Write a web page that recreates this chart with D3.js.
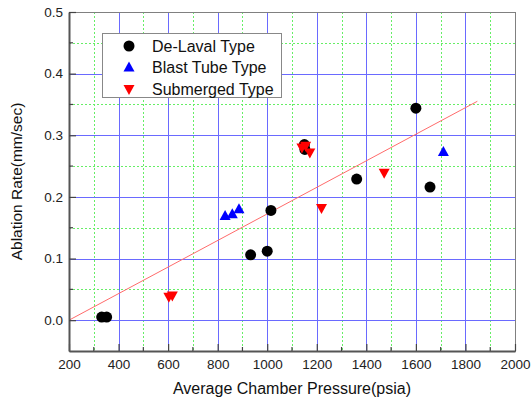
<!DOCTYPE html>
<html>
<head>
<meta charset="utf-8">
<script src="https://cdn.jsdelivr.net/npm/d3@7"></script>
<style>
  body { margin: 0; background: #fff; }
  svg { display: block; font-family: "Liberation Sans", Arial, sans-serif; }
</style>
</head>
<body>
<div id="chart"></div>
<script>
// De-Laval type nozzles
const delavalX = [332, 352, 933, 1000, 1015, 1150, 1152, 1361, 1600, 1657];
const delavalY = [0.005, 0.005, 0.106, 0.112, 0.178, 0.285, 0.277, 0.229, 0.344, 0.216];
// Blast tube type
const blastX = [830, 859, 886, 1711];
const blastY = [0.169, 0.172, 0.180, 0.273];
// Submerged type
const submergedX = [603, 617, 1140, 1155, 1172, 1219, 1472];
const submergedY = [0.038, 0.040, 0.280, 0.283, 0.272, 0.182, 0.239];

// linear fit drawn over the data
const fitSlope = 0.0002155;
const fitIntercept = -0.0431;
const fitRange = [200, 1848];

const xTicks = [200, 400, 600, 800, 1000, 1200, 1400, 1600, 1800, 2000];
const yTicks = [0.0, 0.1, 0.2, 0.3, 0.4, 0.5];

const series = [
    { name: "De-Laval Type", xs: delavalX, ys: delavalY, shape: "circle", color: "#000000" },
    { name: "Blast Tube Type", xs: blastX, ys: blastY, shape: "up", color: "#0000ff" },
    { name: "Submerged Type", xs: submergedX, ys: submergedY, shape: "down", color: "#ff0000" }
];

const width = 531, height = 403;
const margin = { left: 69, right: 16, top: 12, bottom: 52 };

const svg = d3.select("#chart").append("svg")
    .attr("width", width).attr("height", height);

const x = d3.scaleLinear().domain([200, 2000]).range([margin.left, width - margin.right]);
const y = d3.scaleLinear().domain([-0.05, 0.5]).range([height - margin.bottom, margin.top]);

const x0 = x.range()[0], x1 = x.range()[1];
const y0 = y.range()[0], y1 = y.range()[1];

const grid = svg.append("g");
const minorX = d3.range(300, 2000, 200);
const minorY = d3.range(-0.05, 0.5, 0.1).map(v => +v.toFixed(2)).filter(v => v > -0.05);

// minor grid, dotted green
grid.selectAll(".gx-minor").data(minorX).enter().append("line")
    .attr("x1", d => Math.round(x(d)) + 0.5).attr("x2", d => Math.round(x(d)) + 0.5)
    .attr("y1", y1).attr("y2", y0)
    .attr("stroke", "#66ee66").attr("stroke-dasharray", "2,2");
grid.selectAll(".gy-minor").data(minorY).enter().append("line")
    .attr("y1", d => Math.round(y(d)) + 0.5).attr("y2", d => Math.round(y(d)) + 0.5)
    .attr("x1", x0).attr("x2", x1)
    .attr("stroke", "#66ee66").attr("stroke-dasharray", "2,2");

// major grid, solid blue
grid.selectAll(".gx").data(xTicks.slice(1, -1)).enter().append("line")
    .attr("x1", d => Math.round(x(d)) + 0.5).attr("x2", d => Math.round(x(d)) + 0.5)
    .attr("y1", y1).attr("y2", y0)
    .attr("stroke", "#6a6aff");
grid.selectAll(".gy").data(yTicks.slice(0, -1)).enter().append("line")
    .attr("y1", d => Math.round(y(d)) + 0.5).attr("y2", d => Math.round(y(d)) + 0.5)
    .attr("x1", x0).attr("x2", x1)
    .attr("stroke", "#6a6aff");

// fit line
svg.append("line")
    .attr("x1", x(fitRange[0])).attr("y1", y(fitIntercept + fitSlope * fitRange[0]))
    .attr("x2", x(fitRange[1])).attr("y2", y(fitIntercept + fitSlope * fitRange[1]))
    .attr("stroke", "#ff6b6b").attr("stroke-width", 1);

// markers
function marker(g, shape, color) {
    if (shape === "circle") {
        g.append("circle").attr("r", 5.5).attr("fill", color);
    } else if (shape === "up") {
        g.append("path").attr("d", "M0,-6L5.5,4L-5.5,4Z").attr("fill", color);
    } else {
        g.append("path").attr("d", "M0,6L5.5,-4L-5.5,-4Z").attr("fill", color);
    }
}

series.forEach(s => {
    s.xs.forEach((xv, i) => {
        const g = svg.append("g").attr("transform", `translate(${x(xv)},${y(s.ys[i])})`);
        marker(g, s.shape, s.color);
    });
});

// frame
svg.append("rect")
    .attr("x", x0 + 0.5).attr("y", y1 + 0.5)
    .attr("width", x1 - x0).attr("height", y0 - y1)
    .attr("fill", "none").attr("stroke", "#808080");

// axes with inward ticks
const xAxis = d3.axisBottom(x).tickValues(xTicks).tickSizeInner(-7).tickSizeOuter(0)
    .tickPadding(8).tickFormat(d3.format("d"));
const yAxis = d3.axisLeft(y).tickValues(yTicks).tickSizeInner(-7).tickSizeOuter(0)
    .tickPadding(6).tickFormat(d3.format(".1f"));

const gx = svg.append("g").attr("transform", `translate(0,${y0})`).call(xAxis);
const gy = svg.append("g").attr("transform", `translate(${x0},0)`).call(yAxis);

[gx, gy].forEach(g => {
    g.select(".domain").attr("stroke", "#555").attr("stroke-width", 2);
    g.selectAll(".tick line").attr("stroke", "#444").attr("stroke-width", 1.2);
    g.selectAll(".tick text").attr("font-size", 13.5).attr("fill", "#222")
        .attr("font-family", "'Liberation Sans', Arial, sans-serif");
});

// minor ticks
gx.selectAll(".mt").data(minorX).enter().append("line")
    .attr("x1", d => x(d)).attr("x2", d => x(d)).attr("y1", 0).attr("y2", -4)
    .attr("stroke", "#444").attr("stroke-width", 1.2);
gy.selectAll(".mt").data(minorY).enter().append("line")
    .attr("y1", d => y(d)).attr("y2", d => y(d)).attr("x1", 0).attr("x2", 4)
    .attr("stroke", "#444").attr("stroke-width", 1.2);

// axis titles
svg.append("text")
    .attr("x", (x0 + x1) / 2).attr("y", 394)
    .attr("text-anchor", "middle").attr("font-size", 16).attr("fill", "#111")
    .text("Average Chamber Pressure(psia)");
svg.append("text")
    .attr("transform", `translate(22,${(y0 + y1) / 2}) rotate(-90)`)
    .attr("text-anchor", "middle").attr("font-size", 15.5).attr("fill", "#111")
    .text("Ablation Rate(mm/sec)");

// legend
const legend = svg.append("g").attr("transform", "translate(102,33)");
legend.append("rect")
    .attr("x", 0.5).attr("y", 0.5).attr("width", 179).attr("height", 64)
    .attr("fill", "#fff").attr("stroke", "#888");
series.forEach((s, i) => {
    const row = legend.append("g").attr("transform", `translate(0,${13 + i * 21.5})`);
    marker(row.append("g").attr("transform", "translate(27,0)"), s.shape, s.color);
    row.append("text").attr("x", 50).attr("y", 5.5)
        .attr("font-size", 16).attr("fill", "#111").text(s.name);
});
</script>
</body>
</html>
